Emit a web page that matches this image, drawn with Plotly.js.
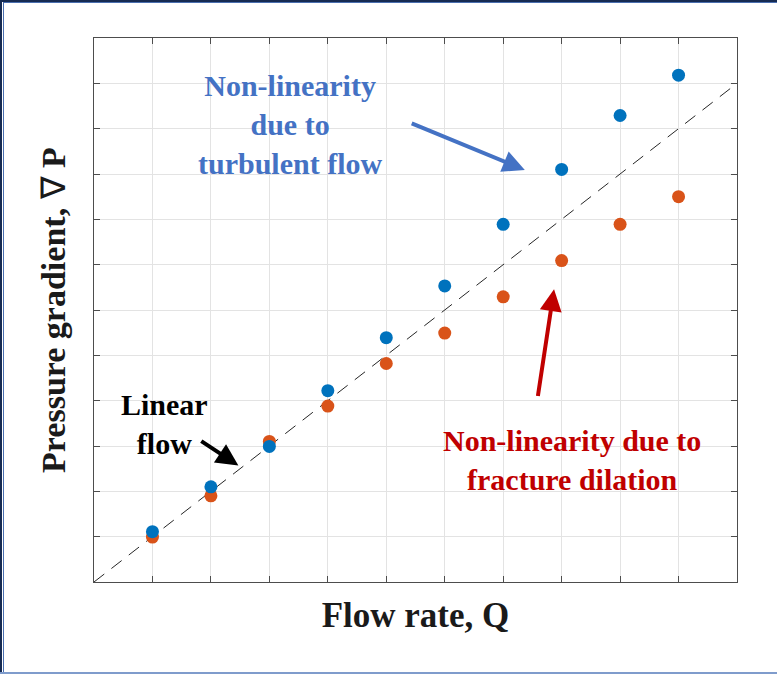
<!DOCTYPE html>
<html>
<head>
<meta charset="utf-8">
<script src="https://cdn.plot.ly/plotly-3.0.1.min.js"></script>
<style>
  html, body { margin: 0; padding: 0; background: #fff; }
  #wrap { position: relative; width: 777px; height: 674px; overflow: hidden; }
  #chart { position: absolute; left: 0; top: 0; width: 777px; height: 674px; }
  .edge { position: absolute; pointer-events: none; }
</style>
</head>
<body>
<div id="wrap">
  <div id="chart"></div>
  <!-- page frame -->
  <div class="edge" style="left:0;top:0;width:777px;height:2px;background:#162b52;"></div>
  <div class="edge" style="left:3px;top:2px;width:774px;height:1px;background:#4a6fb0;"></div>
  <div class="edge" style="left:0;top:0;width:2px;height:674px;background:#162b52;"></div>
  <div class="edge" style="left:3px;top:2px;width:1px;height:672px;background:#4a6fb0;"></div>
  <div class="edge" style="left:0;top:672px;width:777px;height:2px;background:#7f9ccc;"></div>
</div>
<script>
// Flow rate steps and measured pressure gradients
const flowRate = [1, 2, 3, 4, 5, 6, 7, 8, 9, 10];
const gradTurbulent = [1.11, 2.10, 2.99, 4.22, 5.39, 6.53, 7.89, 9.10, 10.29, 11.18];
const gradDilation  = [0.99, 1.90, 3.10, 3.88, 4.82, 5.49, 6.29, 7.09, 7.89, 8.50];

// Linear (Darcy) reference line
const linearX = [0, 10.92];
const linearY = [0, 10.92];

const serif = 'Liberation Serif, Times New Roman, serif';

const traces = [
  {
    x: linearX, y: linearY, type: 'scatter', mode: 'lines',
    line: { color: '#262626', width: 1, dash: '13px,9px' },
    hoverinfo: 'skip', showlegend: false
  },
  {
    x: flowRate, y: gradDilation, type: 'scatter', mode: 'markers',
    marker: { color: '#D95319', size: 13 },
    name: 'Fracture dilation', showlegend: false
  },
  {
    x: flowRate, y: gradTurbulent, type: 'scatter', mode: 'markers',
    marker: { color: '#0072BD', size: 13 },
    name: 'Turbulent flow', showlegend: false
  }
];

const axisCommon = {
  showgrid: true, gridcolor: '#e3e3e3', gridwidth: 1,
  zeroline: false, showline: true, linecolor: '#4d4d4d', linewidth: 1,
  mirror: 'ticks', ticks: 'inside', ticklen: 6, tickcolor: '#4d4d4d',
  showticklabels: false, dtick: 1, tick0: 0, fixedrange: true
};

const arrowBase = { text: '', showarrow: true, xref: 'x', yref: 'y', axref: 'x', ayref: 'y', arrowhead: 2 };

const layout = {
  width: 777, height: 674,
  margin: { l: 94, r: 40, t: 38, b: 92 },
  paper_bgcolor: '#ffffff', plot_bgcolor: '#ffffff',
  showlegend: false,
  xaxis: Object.assign({}, axisCommon, {
    range: [0, 11],
    title: { text: 'Flow rate, Q', font: { family: serif, size: 35, weight: 'bold', color: '#1a1a1a' }, standoff: 20 }
  }),
  yaxis: Object.assign({}, axisCommon, {
    range: [0, 12],
    title: {
      text: 'Pressure gradient, <span style="font-weight:normal">\u2207</span> P',
      font: { family: serif, size: 34, weight: 'bold', color: '#1a1a1a' }, standoff: 17
    }
  }),
  annotations: [
    {
      x: 3.36, y: 10.10, xref: 'x', yref: 'y', showarrow: false,
      text: 'Non-linearity<br>due to<br>turbulent flow', align: 'center',
      font: { family: serif, size: 30, weight: 'bold', color: '#4472C4' }
    },
    Object.assign({}, arrowBase, {
      x: 7.37, y: 9.09, ax: 5.41, ay: 10.13,
      arrowcolor: '#4472C4', arrowwidth: 4, arrowsize: 1.1
    }),
    {
      x: 1.21, y: 3.49, xref: 'x', yref: 'y', showarrow: false,
      text: 'Linear<br>flow', align: 'center',
      font: { family: serif, size: 30, weight: 'bold', color: '#000000' }
    },
    Object.assign({}, arrowBase, {
      x: 2.47, y: 2.57, ax: 1.81, ay: 3.13,
      arrowcolor: '#000000', arrowwidth: 4, arrowsize: 1.1
    }),
    {
      x: 8.17, y: 2.69, xref: 'x', yref: 'y', showarrow: false,
      text: 'Non-linearity due to<br>fracture dilation', align: 'center',
      font: { family: serif, size: 30, weight: 'bold', color: '#C00000' }
    },
    Object.assign({}, arrowBase, {
      x: 7.87, y: 6.46, ax: 7.59, ay: 4.07,
      arrowcolor: '#C00000', arrowwidth: 4, arrowsize: 1.1
    })
  ]
};

Plotly.newPlot('chart', traces, layout, { staticPlot: true, displayModeBar: false });
</script>
</body>
</html>
